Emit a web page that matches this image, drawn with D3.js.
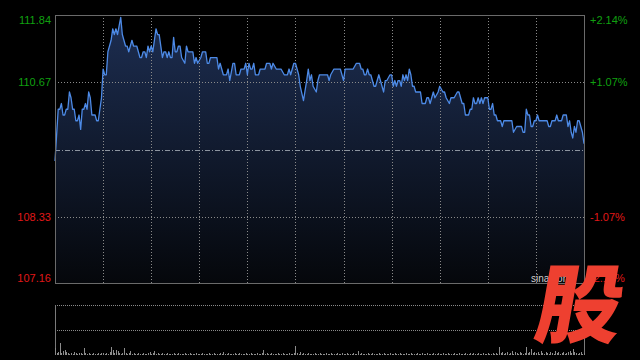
<!DOCTYPE html>
<html><head><meta charset="utf-8">
<script src="https://cdn.jsdelivr.net/npm/d3@7/dist/d3.min.js"></script>
<style>html,body{margin:0;padding:0;background:#000;}svg{display:block;}</style>
</head><body><svg id="c" width="640" height="360"></svg>
<script>
const minutes = [0,2,3,4,5,6,7,8,9,10,11,12,13,14,15,16,17,18,19,20,21,22,23,25,26,27,28,29,30,31,32,33,35,36,37,38,39,40,41,42,43,44,45,46,47,48,49,51,52,53,54,55,56,57,58,59,60,61,62,63,64,65,66,67,68,69,70,71,72,73,74,75,76,77,
78,79,81,82,83,86,87,88,89,91,92,94,95,96,97,101,102,103,104,105,107,108,109,111,112,113,115,116,118,119,120,121,122,123,124,125,127,128,131,132,134,135,136,138,141,143,145,146,147,149,150,152,153,155,157,158,159,160,161,163,164,165,170,171,172,174,178,180,181,186,188,190,191,192,193,194,195,196,197,199,200,202,203,205,206,207,209,210,211,212,213,214,215,216,217,218,219,220,221,222,223,224,225,228,229,231,232,233,234,236,237,239,240,242,243,244,246,247,249,251,252,254,255,256,258,259,260,261,262,263,264,265,266,267,268,270,271,272,273,274,275,276,278,279,280,285,286,288,291,292,293,294,295,296,297,298,299,300,301,302,307,308,309,310,312,313,314,316,317,319,320,321,322,323,324,325,326,327,328,329,330];
const prices = [109.3,110.2,110.2,110.3,110.1,110.1,110.2,110.2,110.5,110.4,110.2,110.2,110.0,110.0,110.1,109.85,110.2,110.2,110.3,110.2,110.5,110.4,110.1,110.1,110.0,110.0,110.2,110.4,110.9,110.8,110.8,111.2,111.4,111.6,111.5,111.6,111.5,111.65,111.8,111.5,111.4,111.3,111.3,111.2,111.3,111.4,111.3,111.3,111.2,111.1,111.1,111.2,111.2,111.1,111.3,111.2,111.3,111.2,111.4,111.6,111.5,111.5,111.3,111.1,111.2,111.2,111.1,111.2,111.1,111.1,111.45,111.2,111.2,111.3,
111.3,111.1,111.0,111.3,111.2,111.2,111.0,111.1,111.0,111.1,111.2,111.2,111.0,111.0,111.1,111.1,110.9,111.0,110.9,110.8,110.8,110.9,110.7,111.0,111.0,110.8,110.8,110.9,110.9,111.0,110.8,111.0,110.9,110.9,111.0,110.8,110.8,110.9,110.9,111.0,111.0,110.9,111.0,110.9,110.9,110.8,110.8,110.9,110.8,111.0,111.0,110.8,110.6,110.35,110.7,110.9,110.7,110.8,110.6,110.5,110.7,110.8,110.8,110.7,110.8,110.9,110.9,110.7,110.9,110.9,111.0,111.0,110.9,110.9,110.8,110.8,110.9,110.8,110.8,110.6,110.6,110.8,110.7,110.5,110.7,110.7,110.8,110.8,110.6,110.7,110.6,110.7,110.7,110.6,110.8,110.7,110.8,110.7,110.9,110.8,110.6,110.6,110.5,110.5,110.3,110.3,110.4,110.4,110.3,110.5,110.4,110.5,110.6,110.5,110.5,110.4,110.3,110.4,110.4,110.5,110.5,110.3,110.3,110.1,110.1,110.2,110.2,110.4,110.3,110.3,110.4,110.3,110.4,110.3,110.4,110.4,110.2,110.2,110.3,110.1,110.1,110.0,110.0,109.9,110.0,110.0,109.8,109.9,109.9,109.8,109.8,110.2,110.1,110.1,109.9,109.9,110.0,110.0,110.1,110.0,110.0,109.9,109.9,110.0,110.0,110.1,110.0,110.0,110.1,110.1,109.9,110.0,109.8,109.7,109.9,109.8,110.0,110.0,109.9,109.8,109.6];
const volumes = [7,2,3,12,2,4,5,3,2,1,2,1,3,2,1,2,2,1,7,2,1,2,1,1,2,1,1,2,1,2,
2,1,2,1,3,8,5,2,5,4,2,1,2,7,2,1,2,4,1,2,1,1,2,1,1,2,1,1,2,3,
1,2,4,1,2,1,1,2,1,1,2,1,1,1,2,1,1,2,1,1,1,2,1,1,2,1,1,1,2,1,
1,1,2,1,1,1,2,1,1,2,1,1,1,2,1,3,1,1,2,1,1,1,2,1,1,2,1,1,1,2,
1,1,2,1,1,1,2,1,1,2,5,1,2,1,1,2,1,1,1,2,1,1,2,1,1,1,2,1,1,2,
9,2,1,3,1,2,1,1,2,1,1,1,2,1,1,2,1,1,1,2,1,1,2,1,1,1,2,1,1,2,
1,1,2,1,1,1,2,1,1,4,1,2,1,1,1,2,1,1,2,1,1,1,2,1,1,2,1,1,1,2,
1,1,2,1,1,2,1,1,1,2,1,1,2,1,1,1,2,1,1,2,1,1,2,1,1,1,2,1,1,2,
1,1,2,1,1,2,1,1,1,2,1,1,2,1,1,1,2,1,1,2,1,2,1,1,2,1,1,2,1,1,
2,1,1,2,1,2,1,8,2,3,1,2,3,1,2,4,1,3,2,1,3,2,1,2,8,2,3,6,2,3,
2,3,1,4,2,1,3,2,1,3,2,1,4,2,3,1,2,3,1,2,3,4,2,6,3,2,1,2,3,1,2];
const prevClose = 109.50;
const priceTicks = [111.84, 110.67, 108.33, 107.16];
const pctLabels = ["+2.14%", "+1.07%", "-1.07%", "-2.14%"];

const svg = d3.select("#c");
const L = 55, R = 584, T = 15, B = 284;
const VT = 305, VB = 355;
const x = d3.scaleLinear().domain([0, 330]).range([L, R]);
const y = d3.scaleLinear().domain([107.16, 111.84]).range([B, T]);
const yv = d3.scaleLinear().domain([0, 50]).range([VB, VT]);
const GREEN = "#10a010", RED = "#e01818";

const defs = svg.append("defs");
const g = defs.append("linearGradient").attr("id","ag").attr("gradientUnits","userSpaceOnUse")
  .attr("x1",0).attr("x2",0).attr("y1",T).attr("y2",B);
g.append("stop").attr("offset","0").attr("stop-color","#1d2e52");
g.append("stop").attr("offset","1").attr("stop-color","#05070b");

const pts = minutes.map((m,i)=>[m, prices[i]]);
svg.append("path").datum(pts).attr("fill","url(#ag)")
  .attr("d", d3.area().x(d=>x(d[0])).y0(B).y1(d=>y(d[1])));

// grid
const vlines = d3.range(1, 11).map(k => k * 30);
svg.append("g").selectAll("line").data(vlines).join("line")
  .attr("x1", d=>Math.round(x(d))+0.5).attr("x2", d=>Math.round(x(d))+0.5)
  .attr("y1", T).attr("y2", B).attr("stroke","#8a8a8a").attr("stroke-dasharray","1,2");
svg.append("g").selectAll("line").data([110.67, 108.33]).join("line")
  .attr("x1", L).attr("x2", R).attr("y1", d=>Math.round(y(d))+0.5).attr("y2", d=>Math.round(y(d))+0.5)
  .attr("stroke","#8a8a8a").attr("stroke-dasharray","1,2");
svg.append("line").attr("x1",L).attr("x2",R)
  .attr("y1",Math.round(y(prevClose))+0.5).attr("y2",Math.round(y(prevClose))+0.5)
  .attr("stroke","#8d95a0").attr("stroke-dasharray","5,2,1,2");

svg.append("path").datum(pts).attr("fill","none").attr("stroke","#4d8ae6").attr("stroke-width",1.3)
  .attr("stroke-linejoin","round")
  .attr("d", d3.line().x(d=>x(d[0])).y(d=>y(d[1])));

svg.append("rect").attr("x",L+0.5).attr("y",T+0.5).attr("width",R-L).attr("height",B-T-1)
  .attr("fill","none").attr("stroke","#6a6a6a");

// labels
svg.append("g").selectAll("text").data(priceTicks).join("text")
  .attr("x", 51).attr("y", (d,i)=> i===0 ? y(d)+9 : i===3 ? y(d)-2 : y(d)+4)
  .attr("text-anchor","end").attr("font-family","Liberation Sans, Arial, sans-serif").attr("font-size",11)
  .attr("fill",(d,i)=> i<2 ? GREEN : RED).text(d=>d.toFixed(2));
svg.append("g").selectAll("text").data(pctLabels).join("text")
  .attr("x", 590).attr("y", (d,i)=> i===0 ? y(priceTicks[i])+9 : i===3 ? y(priceTicks[i])-2 : y(priceTicks[i])+4)
  .attr("text-anchor","start").attr("font-family","Liberation Sans, Arial, sans-serif").attr("font-size",11)
  .attr("fill",(d,i)=> i<2 ? GREEN : RED).text(d=>d);

// volume panel
svg.append("g").selectAll("line").data([VT, (VT+VB)/2]).join("line")
  .attr("x1", L).attr("x2", R).attr("y1", d=>Math.round(d)+0.5).attr("y2", d=>Math.round(d)+0.5)
  .attr("stroke","#8a8a8a").attr("stroke-dasharray","1,1");
svg.append("line").attr("x1",L+0.5).attr("x2",L+0.5).attr("y1",VT).attr("y2",VB).attr("stroke","#7a7a7a");
svg.append("line").attr("x1",R+0.5).attr("x2",R+0.5).attr("y1",VT).attr("y2",VB).attr("stroke","#7a7a7a");
svg.append("g").selectAll("rect").data(volumes).join("rect")
  .attr("x",(d,i)=>Math.round(x(i))).attr("width",1)
  .attr("y",d=>yv(d)).attr("height",d=>VB-yv(d)).attr("fill","#8c8c8c");

// watermark
svg.append("text").attr("x",531).attr("y",282).attr("font-family","Liberation Sans, Arial, sans-serif")
  .attr("font-size",10).attr("fill","#cfcfcf").text("sina.com");
svg.append("text").attr("transform","translate(575,336) skewX(-10)").attr("text-anchor","middle")
  .attr("font-family","Noto Sans CJK SC").attr("font-weight",900).attr("font-size",86)
  .attr("fill","#ee4030").text("股");
</script></body></html>
